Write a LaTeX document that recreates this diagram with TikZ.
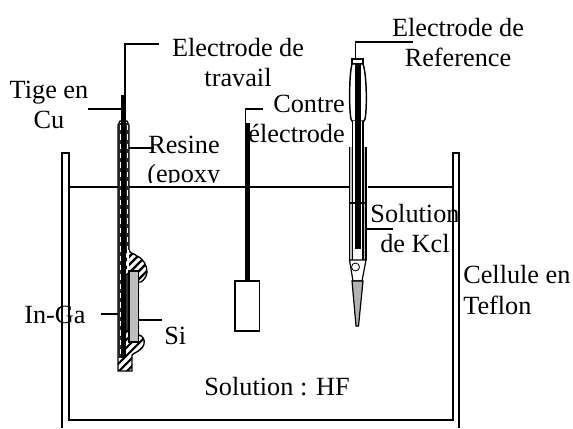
\documentclass[tikz,border=0pt]{standalone}
\usepackage{fontspec}
\setmainfont{Liberation Serif}
\tikzset{
 x=0.75pt,y=-0.75pt,
 lbl/.style={inner sep=0pt,align=center,font=\fontsize{19.7pt}{22.5pt}\selectfont},
 ln/.style={line width=0.9pt,draw=black},
 wall/.style={line width=1.3pt,draw=black},
}
\newcommand{\stripes}{\foreach \k in {0,...,20} {\draw[line width=1.6pt] (110,{260+\k*8}) -- (160,{210+\k*8});}}
\begin{document}
\begin{tikzpicture}
\useasboundingbox (0,0) rectangle (573,428);
\fill[white] (0,0) rectangle (573,428);
% cell
\draw[wall] (62,428) -- (62,153) -- (69,153) -- (69,420) -- (453,420) -- (453,153) -- (459,153) -- (459,428);
\draw[wall] (69,187) -- (118,187) (129,187) -- (350,187) (368,187) -- (453,187);
% working electrode
\coordinate (wt) at (125,44); \coordinate (wl) at (159,44);
\draw[ln] (wl) -- (wt) -- (125,96);
\fill[black] (121,95) rectangle (125.5,122);
\begin{scope}
\clip (129,250) .. controls (130,254) and (134,253) .. (137,256) .. controls (144,259) and (147,266) .. (147,272) .. controls (147,276) and (144,280) .. (141,282) -- (139,282) -- (139,335) .. controls (143,336) and (145,340) .. (144,344) .. controls (142,351) and (135,352) .. (132,355) -- (132,371) -- (118,371) -- (118,250) -- cycle;
\stripes
\end{scope}
\draw[line width=1pt] (129,125) -- (129,250) .. controls (130,254) and (134,253) .. (137,256) .. controls (144,259) and (147,266) .. (147,272) .. controls (147,276) and (144,280) .. (141,282) -- (139,282) (139,335) .. controls (143,336) and (145,340) .. (144,344) .. controls (142,351) and (135,352) .. (132,355) -- (132,371) -- (118,371) -- (118,125) -- (120,121) -- (127,121) -- (129,125);
\fill[black!85] (118,123) rectangle (121,358);
\fill[black] (121,121) rectangle (126,358);
\fill[black!85] (126,123) rectangle (129,250);
\draw[white,line width=0.7pt,dash pattern=on 4pt off 3pt] (120,125) -- (120,358);
\draw[white,line width=0.7pt,dash pattern=on 4pt off 3pt] (127.3,125) -- (127.3,250);
\fill[white] (127,250) rectangle (129,270);
\fill[black!80] (126,275) rectangle (129,330);
\draw[line width=0.9pt,fill=black!25] (129,271) rectangle (138.5,342);
\coordinate (tg) at (88,109); \draw[line width=1.3pt] (tg) -- (121,109);
\coordinate (rs) at (154,148); \draw[ln] (129,148) -- (rs);
\coordinate (ig) at (101,314); \draw[ln] (ig) -- (118,314);
\coordinate (sl) at (162,320); \draw[ln] (139,320) -- (sl);
% counter electrode
\coordinate (ct) at (245.5,109); \coordinate (cl) at (262.5,109);
\fill[black] (245,123) rectangle (250,281);
\draw[ln] (cl) -- (ct) -- (245.5,123);
\draw[ln,fill=white] (235,281) rectangle (259.5,331);
% reference electrode
\coordinate (rt) at (355.5,42); \coordinate (rl) at (413,42);
\draw[ln] (rl) -- (rt) -- (355.5,59);
\draw[ln,fill=white] (352,59) rectangle (363,64);
\draw[line width=1.1pt,fill=white] (352,64) .. controls (349,75) and (349,110) .. (351,119) -- (352,121) -- (364,121) -- (365,119) .. controls (367,110) and (367,75) .. (363,64) -- cycle;
\fill[black] (355,64) rectangle (361,121);
\fill[black!25] (349.5,147) rectangle (366,260);
\draw[ln] (349.5,147) -- (349.5,260) (366,147) -- (366,260);
\draw[ln,fill=white] (352.5,121) -- (352.5,264) -- (363,264) -- (363,121);
\fill[black] (355,121) rectangle (361,249);
\draw[ln] (349.5,203) -- (366,203);
\draw[ln,fill=white] (349.5,260) -- (353,281) -- (362,281) -- (366,260) -- cycle;
\draw[line width=0.6pt] (355.5,267) circle (3pt);
\draw[ln,fill=black!30] (352,281) -- (363,281) -- (358.5,326) -- (356,326) -- cycle;
\coordinate (sk) at (393,229); \draw[ln] (367,229) -- (sk);
% labels
\node[lbl,anchor=north] (a) at (238,38) {Electrode de\\travail};
\node[lbl,anchor=north] (b) at (49,80.5) {Tige en\\Cu};
\node[lbl,anchor=north east,align=right] (c) at (345,94.5) {Contre\\électrode};
\node[lbl,anchor=north] (d) at (458,18.5) {Electrode de\\Reference};
\node[lbl,anchor=north] (e) at (415,204.5) {Solution\\de Kcl};
\node[lbl,anchor=base west] (f) at (463,283) {Cellule en};
\node[lbl,anchor=base west] (g) at (463,314) {Teflon};
\node[lbl,anchor=base west] (h) at (24,323) {In-Ga};
\node[lbl,anchor=base west] (i) at (164,344) {Si};
\node[lbl,anchor=base] (j) at (277,395) {Solution : HF};
\node[lbl,anchor=base west] (k) at (148,153) {Resine};
\begin{scope}
\clip (140,160) rectangle (240,182.5);
\node[lbl,anchor=base west] (l) at (147,182) {(epoxy};
\end{scope}
\end{tikzpicture}
\end{document}
